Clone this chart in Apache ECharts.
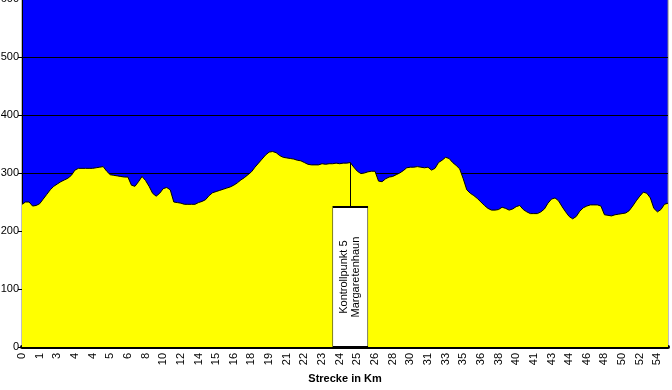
<!DOCTYPE html>
<html>
<head>
<meta charset="utf-8">
<script src="https://cdn.jsdelivr.net/npm/echarts@6/dist/echarts.min.js"></script>
<style>
html,body{margin:0;padding:0;background:#fff;}
#chart{width:672px;height:390px;}
</style>
</head>
<body>
<div id="chart"></div>
<script>
// Km tick labels (one every 5 data points)
const kmLabels = [0,1,3,4,4,5,6,8,10,12,14,15,16,18,19,21,22,23,24,25,26,28,30,31,33,35,36,38,40,41,43,44,46,48,50,52,54];
const pointsPerLabel = 5;

// Elevation profile (m)
const elevation = [
  246,250,250,243,244,247,255,263,271,277,
  281,285,288,291,296,305,308,308,308,308,
  308,309,310,311,303,297,296,295,294,293,
  293,279,277,285,294,287,277,265,260,265,
  273,275,271,250,249,248,246,246,246,246,
  249,251,254,261,266,268,270,272,274,276,
  279,283,288,292,297,302,310,317,324,331,
  336,337,335,330,327,326,325,324,322,321,
  318,315,314,314,314,316,315,316,316,317,
  316,317,317,318,310,303,299,300,302,303,
  303,286,285,290,293,294,297,300,304,309,
  310,310,311,310,309,310,305,308,318,322,
  327,325,318,313,307,290,271,265,261,256,
  250,244,239,236,236,237,241,239,236,238,
  242,244,237,233,230,230,230,233,238,248,
  255,257,252,242,233,225,221,225,234,240,
  243,245,245,245,243,228,227,226,228,229,
  230,231,235,243,252,260,267,265,257,239,
  233,237,246,248
];

// Annotation
const kpIndex = 93;
const kpBoxTop = 241;
const kpText = 'Kontrollpunkt 5\nMargaretenhaun';

const categories = elevation.map((_, i) => i % pointsPerLabel === 0 ? String(kmLabels[i / pointsPerLabel]) : '');

const font = 'Arial, "Liberation Sans", sans-serif';
const chart = echarts.init(document.getElementById('chart'));
chart.setOption({
  animation: false,
  grid: {
    left: 22, right: 4, top: -1, bottom: 43,
    outerBoundsMode: 'none', containLabel: false,
    show: true, backgroundColor: '#0000FF', borderColor: '#808080', borderWidth: 1
  },
  xAxis: {
    type: 'category',
    data: categories,
    boundaryGap: false,
    name: 'Strecke in Km',
    nameLocation: 'middle',
    nameGap: 25,
    nameTextStyle: { fontFamily: font, fontSize: 11, fontWeight: 'bold', color: '#000' },
    axisLine: { show: true, lineStyle: { color: '#000', width: 4 } },
    axisTick: { show: false },
    axisLabel: {
      interval: pointsPerLabel - 1, rotate: 90, margin: 6,
      fontFamily: font, fontSize: 11, color: '#000'
    },
    splitLine: { show: false }
  },
  yAxis: {
    type: 'value',
    min: 0, max: 600, interval: 100,
    axisLine: { show: true, lineStyle: { color: '#000', width: 1 } },
    axisTick: { show: true, length: 4, lineStyle: { color: '#000' } },
    axisLabel: { margin: 3, fontFamily: font, fontSize: 11, color: '#000' },
    splitLine: { show: true, lineStyle: { color: '#000', width: 1 } }
  },
  series: [{
    type: 'line',
    data: elevation,
    symbol: 'none',
    lineStyle: { color: '#000', width: 1 },
    areaStyle: { color: '#FFFF00', opacity: 1 },
    markLine: {
      silent: true,
      symbol: 'none',
      label: { show: false },
      lineStyle: { color: '#000', width: 1, type: 'solid' },
      data: [[{ coord: [kpIndex, kpBoxTop] }, { coord: [kpIndex, elevation[kpIndex]] }]]
    },
    markPoint: {
      silent: true,
      data: [{
        coord: [kpIndex, kpBoxTop / 2],
        symbol: 'rect',
        symbolSize: [35, 140],
        itemStyle: { color: '#FFFFFF', borderColor: '#000', borderWidth: 1 },
        label: {
          show: true, position: 'inside', rotate: 90,
          formatter: kpText,
          fontFamily: font, fontSize: 11, lineHeight: 12, color: '#000'
        }
      }]
    }
  }]
});
</script>
</body>
</html>
